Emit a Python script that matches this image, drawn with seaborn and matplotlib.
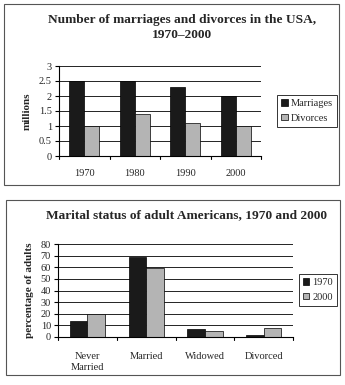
import matplotlib
matplotlib.use("Agg")
import matplotlib.pyplot as plt
import seaborn as sns
import pandas as pd
from matplotlib.patches import Rectangle, Patch

years = ["1970", "1980", "1990", "2000"]
marriages = [2.5, 2.5, 2.3, 2.0]
divorces = [1.0, 1.4, 1.1, 1.0]

statuses = ["Never\nMarried", "Married", "Widowed", "Divorced"]
pct_1970 = [14, 69, 7, 2]
pct_2000 = [20, 59, 5, 8]

sns.set_theme(style="white")
plt.rcParams['font.family'] = ['Liberation Serif', 'DejaVu Serif']

DARK = "#1a1a1a"
LIGHT = "#b4b4b4"

df1 = pd.DataFrame({
    "year": years * 2,
    "value": marriages + divorces,
    "kind": ["Marriages"] * 4 + ["Divorces"] * 4,
})
df2 = pd.DataFrame({
    "status": statuses * 2,
    "value": pct_1970 + pct_2000,
    "yr": ["1970"] * 4 + ["2000"] * 4,
})

W, H = 345, 385
fig = plt.figure(figsize=(W / 100, H / 100), dpi=100)
fig.patch.set_facecolor("white")

def frac(x0, y0, x1, y1):
    return [x0 / W, 1 - y1 / H, (x1 - x0) / W, (y1 - y0) / H]

# panel borders
for (x0, y0, x1, y1) in [(4, 4, 339, 185), (6, 200, 340, 375)]:
    fig.patches.append(Rectangle((x0 / W, 1 - y1 / H), (x1 - x0) / W, (y1 - y0) / H,
                                 transform=fig.transFigure, fill=False,
                                 edgecolor="#555555", linewidth=0.8))

def style_axes(ax, ymax, step, ylabel):
    ax.set_ylim(0, ymax)
    ax.set_yticks([i * step for i in range(int(round(ymax / step)) + 1)])
    ax.yaxis.set_major_formatter(matplotlib.ticker.FuncFormatter(lambda v, p: f"{v:g}"))
    ax.grid(axis="y", color="black", linewidth=0.6)
    ax.set_axisbelow(True)
    for s in ["top", "right"]:
        ax.spines[s].set_visible(False)
    for s in ["left", "bottom"]:
        ax.spines[s].set_color("black")
        ax.spines[s].set_linewidth(0.8)
    ax.tick_params(axis="y", left=True, length=3, width=0.8, color="black",
                   labelsize=7.5, pad=2)
    ax.tick_params(axis="x", bottom=False, labelsize=7.5, pad=3)
    ax.set_xlabel("")
    ax.set_ylabel(ylabel, fontsize=8, fontweight="bold", labelpad=5)
    n = len(ax.get_xticks())
    ax.set_xlim(-0.5, n - 0.5)
    for b in range(n + 1):
        ax.plot([b - 0.5, b - 0.5], [0, -ymax * 0.03], color="black", lw=0.8,
                clip_on=False)

# Top chart
ax1 = fig.add_axes(frac(59, 66, 261, 156))
sns.barplot(data=df1, x="year", y="value", hue="kind", palette=[DARK, LIGHT],
            width=0.6, edgecolor="black", linewidth=0.5, ax=ax1, legend=False,
            saturation=1)
style_axes(ax1, 3, 0.5, "millions")
fig.text(182 / W, 1 - 20 / H, "Number of marriages and divorces in the USA,",
         ha="center", va="center", fontsize=9.6, fontweight="bold")
fig.text(182 / W, 1 - 35 / H, "1970\u20132000",
         ha="center", va="center", fontsize=9.6, fontweight="bold")
h1 = [Patch(facecolor=DARK, edgecolor="black", lw=0.5, label="Marriages"),
      Patch(facecolor=LIGHT, edgecolor="black", lw=0.5, label="Divorces")]
leg1 = fig.legend(handles=h1, loc="center", bbox_to_anchor=(307 / W, 1 - 111 / H),
                  fontsize=7.5, frameon=True, fancybox=False, handlelength=0.6,
                  handleheight=0.6, handletextpad=0.3, borderpad=0.4,
                  labelspacing=0.5, borderaxespad=0)
leg1.get_frame().set_edgecolor("black")
leg1.get_frame().set_linewidth(0.7)

# Bottom chart
ax2 = fig.add_axes(frac(58, 244, 293, 337))
sns.barplot(data=df2, x="status", y="value", hue="yr", palette=[DARK, LIGHT],
            width=0.6, edgecolor="black", linewidth=0.5, ax=ax2, legend=False,
            saturation=1)
style_axes(ax2, 80, 10, "percentage of adults")
ax2.tick_params(axis="x", pad=5)
fig.text(186 / W, 1 - 215 / H, "Marital status of adult Americans, 1970 and 2000",
         ha="center", va="center", fontsize=9.6, fontweight="bold")
h2 = [Patch(facecolor=DARK, edgecolor="black", lw=0.5, label="1970"),
      Patch(facecolor=LIGHT, edgecolor="black", lw=0.5, label="2000")]
leg2 = fig.legend(handles=h2, loc="center", bbox_to_anchor=(318 / W, 1 - 290 / H),
                  fontsize=7.5, frameon=True, fancybox=False, handlelength=0.6,
                  handleheight=0.6, handletextpad=0.3, borderpad=0.4,
                  labelspacing=0.5, borderaxespad=0)
leg2.get_frame().set_edgecolor("black")
leg2.get_frame().set_linewidth(0.7)

fig.savefig("out.png", dpi=100, facecolor="white")
